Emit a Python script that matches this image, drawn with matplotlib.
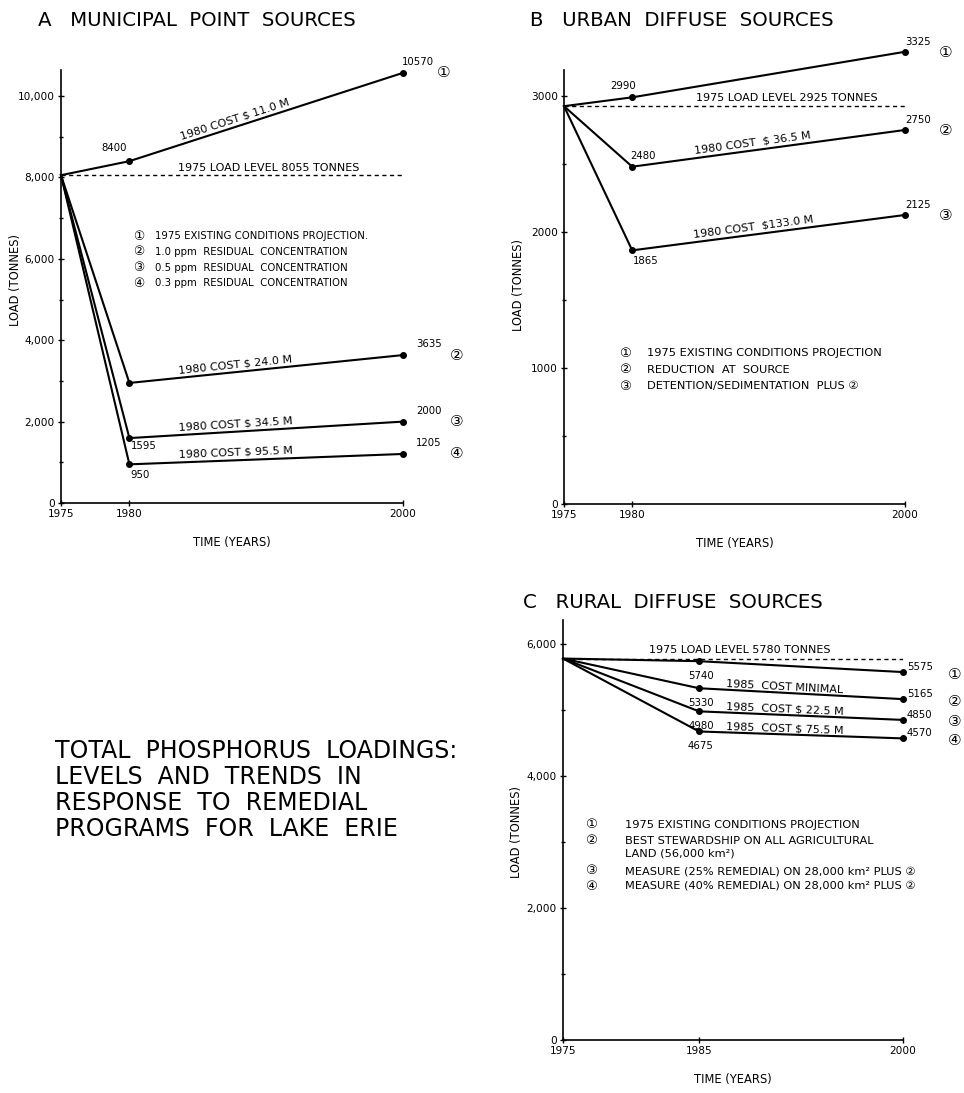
import numpy as np
import matplotlib
matplotlib.use('Agg')
import matplotlib.pyplot as plt
import matplotlib.ticker as mticker

plt.rcParams['font.family'] = ['DejaVu Sans', 'Noto Sans CJK JP']
plt.rcParams['axes.linewidth'] = 1.2

W, H = 964, 1093

# ── data ──
years_ab = [1975, 1980, 2000]
years_c = [1975, 1985, 2000]

muni_base = 8055
muni_1 = [8055, 8400, 10570]
muni_2 = [8055, 2950, 3635]
muni_3 = [8055, 1595, 2000]
muni_4 = [8055, 950, 1205]
muni_cost = ['1980 COST $ 11.0 M', '1980 COST $ 24.0 M',
             '1980 COST $ 34.5 M', '1980 COST $ 95.5 M']
muni_legend = ['1975 EXISTING CONDITIONS PROJECTION.',
               '1.0 ppm  RESIDUAL  CONCENTRATION',
               '0.5 ppm  RESIDUAL  CONCENTRATION',
               '0.3 ppm  RESIDUAL  CONCENTRATION']

urban_base = 2925
urban_1 = [2925, 2990, 3325]
urban_2 = [2925, 2480, 2750]
urban_3 = [2925, 1865, 2125]
urban_cost = ['1980 COST  $ 36.5 M', '1980 COST  $133.0 M']
urban_legend = ['1975 EXISTING CONDITIONS PROJECTION',
                'REDUCTION  AT  SOURCE',
                'DETENTION/SEDIMENTATION  PLUS ②']

rural_base = 5780
rural_1 = [5780, 5740, 5575]
rural_2 = [5780, 5330, 5165]
rural_3 = [5780, 4980, 4850]
rural_4 = [5780, 4675, 4570]
rural_cost = ['1985  COST MINIMAL', '1985  COST $ 22.5 M', '1985  COST $ 75.5 M']
rural_legend = ['1975 EXISTING CONDITIONS PROJECTION',
                'BEST STEWARDSHIP ON ALL AGRICULTURAL\nLAND (56,000 km²)',
                'MEASURE (25% REMEDIAL) ON 28,000 km² PLUS ②',
                'MEASURE (40% REMEDIAL) ON 28,000 km² PLUS ②']

circ = ['①', '②', '③', '④']

big_title = ('TOTAL  PHOSPHORUS  LOADINGS:\nLEVELS  AND  TRENDS  IN\n'
             'RESPONSE  TO  REMEDIAL\nPROGRAMS  FOR  LAKE  ERIE')

fig = plt.figure(figsize=(W / 100, H / 100), dpi=100)


def add_ax(left, right, bottom, top):
    return fig.add_axes([left / W, 1 - bottom / H, (right - left) / W, (bottom - top) / H])


def fpx(x, y):
    return x / W, 1 - y / H


def style(ax, xticks, ymajor, yminor, ylim, fmt, lab_x, lab_y):
    ax.spines[['top', 'right']].set_visible(False)
    ax.set_xlim(1975, 2000)
    ax.set_ylim(0, ylim)
    ax.set_xticks(xticks)
    ax.yaxis.set_major_locator(mticker.MultipleLocator(ymajor))
    ax.yaxis.set_minor_locator(mticker.MultipleLocator(yminor))
    ax.yaxis.set_major_formatter(mticker.FuncFormatter(fmt))
    ax.tick_params(axis='both', which='major', direction='inout', length=5, width=1,
                   labelsize=7.6, pad=2)
    ax.tick_params(axis='y', which='minor', direction='inout', length=3, width=1)
    ax.set_ylabel('LOAD (TONNES)', fontsize=8.3)
    ax.yaxis.set_label_coords(lab_x, lab_y)
    ax.set_xlabel('TIME (YEARS)', fontsize=8.3, labelpad=12)


def series(ax, xs, ys):
    ax.plot(xs, ys, color='black', lw=1.5, marker='o', ms=4, markevery=[1, 2],
            clip_on=False, solid_joinstyle='miter')


def base_line(ax, v):
    ax.plot([1975, 2000], [v, v], color='black', lw=1, dashes=(3, 2.5))


def along(ax, xs, ys, xm, text, dy=2, fs=8):
    # text sitting on the segment that contains xm
    i = 0 if xm <= xs[1] else 1
    x0, x1, y0, y1 = xs[i], xs[i + 1], ys[i], ys[i + 1]
    ym = y0 + (xm - x0) / (x1 - x0) * (y1 - y0)
    a = ax.transData.transform((x0, y0))
    b = ax.transData.transform((x1, y1))
    ang = np.degrees(np.arctan2(b[1] - a[1], b[0] - a[0]))
    ax.annotate(text, (xm, ym), xytext=(0, dy), textcoords='offset points',
                ha='center', va='bottom', rotation=ang, rotation_mode='anchor',
                fontsize=fs)


def lab(ax, x, y, text, dx, dy, ha='center', fs=7.3):
    ax.annotate(text, (x, y), xytext=(dx * 0.72, -dy * 0.72), textcoords='offset points',
                ha=ha, va='center', fontsize=fs, annotation_clip=False)


comma = lambda v, p: f'{int(v):,}'
plain = lambda v, p: f'{int(v)}'

# ═══ A: municipal point sources ═══
ax = add_ax(61, 403, 503, 70)
style(ax, [1975, 1980, 2000], 2000, 1000, 10640, comma, -0.114, 0.515)
base_line(ax, muni_base)
for s in (muni_1, muni_2, muni_3, muni_4):
    series(ax, years_ab, s)
for s, txt in zip((muni_1, muni_2, muni_3, muni_4), muni_cost):
    along(ax, years_ab, s, 1987.8, txt)
ax.annotate('1975 LOAD LEVEL 8055 TONNES', (1990.2, muni_base), xytext=(0, 1.5),
            textcoords='offset points', ha='center', va='bottom', fontsize=8)
lab(ax, 1980, muni_1[1], str(muni_1[1]), -15, -13)
lab(ax, 1980, muni_3[1], str(muni_3[1]), 14, 8)
lab(ax, 1980, muni_4[1], str(muni_4[1]), 11, 11)
for s, c, dc in zip((muni_1, muni_2, muni_3, muni_4), circ, (41, 54, 54, 54)):
    lab(ax, 2000, s[2], str(s[2]), 15 if s is muni_1 else 26, -11)
    lab(ax, 2000, s[2], c, dc, 0, fs=11)
for i, (c, t) in enumerate(zip(circ, muni_legend)):
    y = 236 + i * 15.8
    fig.text(*fpx(139, y), c, fontsize=9, ha='center', va='center')
    fig.text(*fpx(155, y), t, fontsize=7.3, ha='left', va='center')
fig.text(*fpx(38, 20), 'A   MUNICIPAL  POINT  SOURCES', fontsize=14.2, ha='left', va='center')

# ═══ B: urban diffuse sources ═══
ax = add_ax(564, 905, 504, 70)
style(ax, [1975, 1980, 2000], 1000, 500, 3191, plain, -0.114, 0.505)
base_line(ax, urban_base)
for s in (urban_1, urban_2, urban_3):
    series(ax, years_ab, s)
for s, txt in zip((urban_2, urban_3), urban_cost):
    along(ax, years_ab, s, 1988.9, txt)
ax.annotate('1975 LOAD LEVEL 2925 TONNES', (1991.3, urban_base), xytext=(0, 2),
            textcoords='offset points', ha='center', va='bottom', fontsize=8)
lab(ax, 1980, urban_1[1], str(urban_1[1]), -9, -11)
lab(ax, 1980, urban_2[1], str(urban_2[1]), 11, -11)
lab(ax, 1980, urban_3[1], str(urban_3[1]), 14, 11)
for s, c in zip((urban_1, urban_2, urban_3), circ):
    lab(ax, 2000, s[2], str(s[2]), 13, -10)
    lab(ax, 2000, s[2], c, 41, 1, fs=11)
for i, (c, t) in enumerate(zip(circ, urban_legend)):
    y = 353 + i * 16.5
    fig.text(*fpx(625, y), c, fontsize=9.5, ha='center', va='center')
    fig.text(*fpx(647, y), t, fontsize=8.2, ha='left', va='center')
fig.text(*fpx(530, 20), 'B   URBAN  DIFFUSE  SOURCES', fontsize=14.2, ha='left', va='center')

# ═══ C: rural diffuse sources ═══
ax = add_ax(563, 903, 1040, 620)
style(ax, [1975, 1985, 2000], 2000, 1000, 6364, comma, -0.118, 0.495)
base_line(ax, rural_base)
for s in (rural_1, rural_2, rural_3, rural_4):
    series(ax, years_c, s)
for s, txt in zip((rural_2, rural_3, rural_4), rural_cost):
    along(ax, years_c, s, 1991.3, txt, dy=0.5)
ax.annotate('1975 LOAD LEVEL 5780 TONNES', (1988.0, rural_base), xytext=(0, 2.5),
            textcoords='offset points', ha='center', va='bottom', fontsize=8)
for s, c in zip((rural_1, rural_2, rural_3, rural_4), circ):
    lab(ax, 1985, s[1], str(s[1]), 2, 15)
    lab(ax, 2000, s[2], str(s[2]), 4, -5, ha='left')
    lab(ax, 2000, s[2], c, 52, 2, fs=11)
rows = [825, 840, 855, 871, 886]
fig.text(*fpx(591, rows[0]), circ[0], fontsize=9.5, ha='center', va='center')
fig.text(*fpx(625, rows[0]), rural_legend[0], fontsize=8.2, ha='left', va='center')
fig.text(*fpx(591, rows[1]), circ[1], fontsize=9.5, ha='center', va='center')
fig.text(*fpx(625, (rows[1] + rows[2]) / 2), rural_legend[1], fontsize=8.2, ha='left',
         va='center', linespacing=1.3)
for k in (2, 3):
    fig.text(*fpx(591, rows[k + 1]), circ[k], fontsize=9.5, ha='center', va='center')
    fig.text(*fpx(625, rows[k + 1]), rural_legend[k], fontsize=8.2, ha='left', va='center')
fig.text(*fpx(523, 602), 'C   RURAL  DIFFUSE  SOURCES', fontsize=14.2, ha='left', va='center')

# ── big caption ──
fig.text(*fpx(55, 739), big_title, fontsize=17, ha='left', va='top', linespacing=1.1)

fig.savefig('out.png', dpi=100, facecolor='white')
